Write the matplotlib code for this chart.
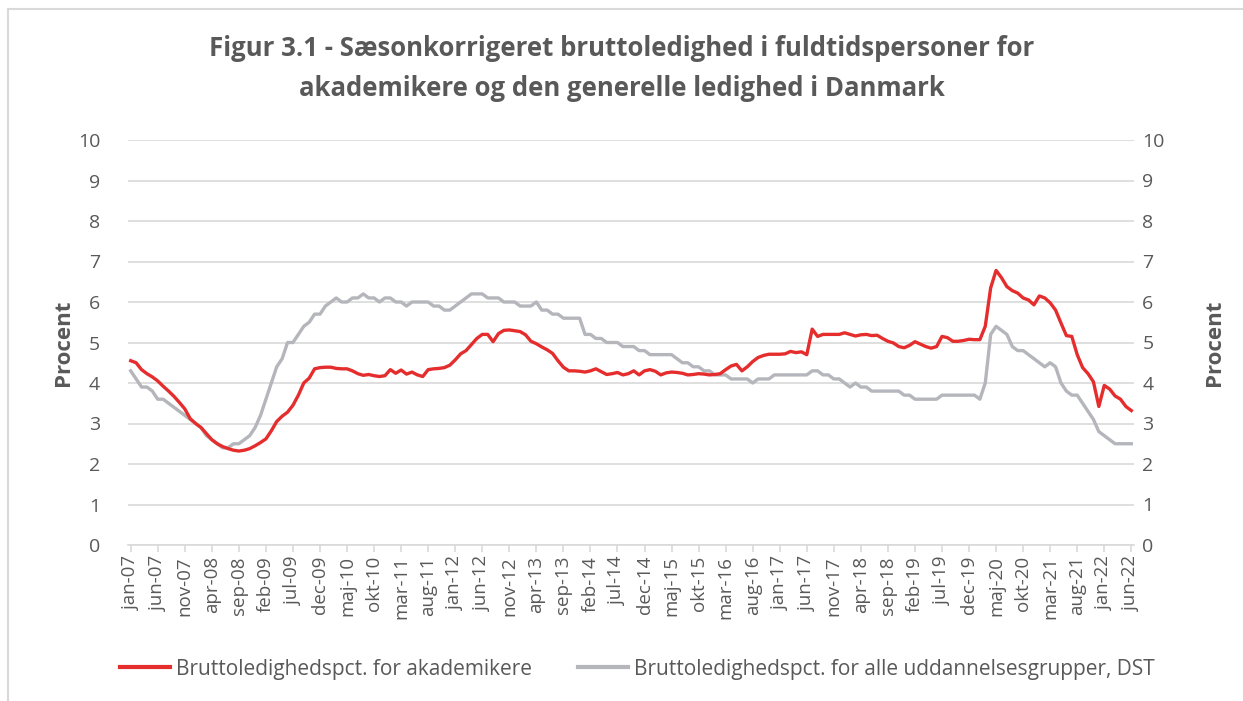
import numpy as np
import matplotlib.pyplot as plt
from matplotlib.lines import Line2D

plt.rcParams['font.family'] = ['Open Sans', 'DejaVu Sans']

months_da = ["jan", "feb", "mar", "apr", "maj", "jun",
             "jul", "aug", "sep", "okt", "nov", "dec"]
labels = [f"{months_da[i % 12]}-{7 + i // 12:02d}" for i in range(186)]

# Bruttoledighedspct. for akademikere (jan-07 .. jun-22)
akademikere = [
    4.55, 4.50, 4.33, 4.23, 4.15, 4.05, 3.92, 3.80, 3.67, 3.52, 3.36, 3.12,
    3.00, 2.90, 2.75, 2.60, 2.50, 2.43, 2.38, 2.34, 2.32, 2.34, 2.38, 2.45,
    2.53, 2.62, 2.82, 3.05, 3.18, 3.28, 3.45, 3.70, 4.00,
    4.12, 4.35, 4.38, 4.39, 4.39, 4.36, 4.35, 4.35, 4.30, 4.23, 4.19, 4.21,
    4.18, 4.16, 4.18, 4.33, 4.24, 4.32, 4.22, 4.27, 4.20, 4.16, 4.33, 4.35,
    4.36, 4.38, 4.44, 4.57, 4.72,
    4.80, 4.95, 5.10, 5.20, 5.20, 5.02, 5.22, 5.30, 5.31, 5.29, 5.27, 5.19,
    5.03, 4.97, 4.89, 4.82, 4.73, 4.55, 4.39, 4.30, 4.30, 4.29, 4.27, 4.30,
    4.35, 4.28, 4.21, 4.23, 4.26, 4.20, 4.23,
    4.30, 4.20, 4.30, 4.33, 4.29, 4.20, 4.25, 4.27, 4.26, 4.24, 4.20, 4.21,
    4.23, 4.22, 4.20, 4.21, 4.23, 4.33, 4.42, 4.46, 4.30, 4.40, 4.53, 4.63,
    4.68, 4.71, 4.71, 4.71, 4.72, 4.78, 4.75, 4.77, 4.70,
    5.33, 5.15, 5.20, 5.20, 5.20, 5.20, 5.24, 5.20, 5.16, 5.19, 5.20, 5.17,
    5.18, 5.10, 5.03, 4.99, 4.90, 4.87, 4.93, 5.02, 4.96, 4.90, 4.86, 4.90,
    5.15, 5.12, 5.03, 5.03, 5.05, 5.08, 5.07,
    5.07, 5.40, 6.35, 6.78, 6.60, 6.38, 6.28, 6.22, 6.10, 6.05, 5.93, 6.15,
    6.10, 5.98, 5.80, 5.48, 5.17, 5.15, 4.70, 4.38, 4.23, 4.03, 3.42, 3.94,
    3.85, 3.68, 3.60, 3.42, 3.32,
]

# Bruttoledighedspct. for alle uddannelsesgrupper, DST
alle = [
    4.3, 4.1, 3.9, 3.9, 3.8, 3.6, 3.6, 3.5, 3.4, 3.3, 3.2, 3.1,
    3.0, 2.9, 2.7, 2.6, 2.5, 2.4, 2.4, 2.5, 2.5, 2.6, 2.7, 2.9,
    3.2, 3.6, 4.0, 4.4, 4.6, 5.0, 5.0, 5.2, 5.4,
    5.5, 5.7, 5.7, 5.9, 6.0, 6.1, 6.0, 6.0, 6.1, 6.1, 6.2, 6.1,
    6.1, 6.0, 6.1, 6.1, 6.0, 6.0, 5.9, 6.0, 6.0, 6.0, 6.0, 5.9,
    5.9, 5.8, 5.8, 5.9, 6.0,
    6.1, 6.2, 6.2, 6.2, 6.1, 6.1, 6.1, 6.0, 6.0, 6.0, 5.9, 5.9,
    5.9, 6.0, 5.8, 5.8, 5.7, 5.7, 5.6, 5.6, 5.6, 5.6, 5.2, 5.2,
    5.1, 5.1, 5.0, 5.0, 5.0, 4.9, 4.9,
    4.9, 4.8, 4.8, 4.7, 4.7, 4.7, 4.7, 4.7, 4.6, 4.5, 4.5, 4.4,
    4.4, 4.3, 4.3, 4.2, 4.2, 4.2, 4.1, 4.1, 4.1, 4.1, 4.0, 4.1,
    4.1, 4.1, 4.2, 4.2, 4.2, 4.2, 4.2, 4.2, 4.2,
    4.3, 4.3, 4.2, 4.2, 4.1, 4.1, 4.0, 3.9, 4.0, 3.9, 3.9, 3.8,
    3.8, 3.8, 3.8, 3.8, 3.8, 3.7, 3.7, 3.6, 3.6, 3.6, 3.6, 3.6,
    3.7, 3.7, 3.7, 3.7, 3.7, 3.7, 3.7,
    3.6, 4.0, 5.2, 5.4, 5.3, 5.2, 4.9, 4.8, 4.8, 4.7, 4.6, 4.5,
    4.4, 4.5, 4.4, 4.0, 3.8, 3.7, 3.7, 3.5, 3.3, 3.1, 2.8, 2.7,
    2.6, 2.5, 2.5, 2.5, 2.5,
]

red = "#E52D2D"
grey = "#B4B6BB"
txt = "#595959"
grid = "#D9D9D9"

fig = plt.figure(figsize=(12.43, 7.01), dpi=100, facecolor="white")
ax = fig.add_axes([128 / 1243, 1 - 545 / 701, 1006 / 1243, 405 / 701])
x = np.arange(len(labels))
ax.plot(x, akademikere, color=red, lw=2.4, solid_joinstyle="round", zorder=3)
ax.plot(x, alle, color=grey, lw=2.4, solid_joinstyle="round", zorder=2)

ax.set_xlim(-0.5, len(labels) - 0.5)
ax.set_ylim(0, 10)
ax.set_yticks(range(11))
ax.yaxis.grid(True, color=grid, lw=1.2)
ax.set_axisbelow(True)
for s in ["top", "left", "right"]:
    ax.spines[s].set_visible(False)
ax.spines["bottom"].set_color(grid)
ax.spines["bottom"].set_linewidth(1.2)
ax.tick_params(axis="y", length=0, labelsize=14, labelcolor=txt, pad=20)
ax.set_xticks(x[::5])
ax.set_xticklabels(labels[::5], rotation=90, fontsize=13.5, color=txt)
ax.tick_params(axis="x", length=5, color=grid, width=1.2, pad=3)

ax2 = ax.twinx()
ax2.set_ylim(0, 10)
ax2.set_yticks(range(11))
for s in ["top", "left", "right", "bottom"]:
    ax2.spines[s].set_visible(False)
ax2.tick_params(axis="y", length=0, labelsize=14, labelcolor=txt, pad=6)

ax.set_ylabel("Procent", fontsize=16, fontweight="bold", color=txt, labelpad=3)
ax2.set_ylabel("Procent", fontsize=16, fontweight="bold", color=txt, labelpad=28)

fig.text(0.5, 1 - 48 / 701, "Figur 3.1 - Sæsonkorrigeret bruttoledighed i fuldtidspersoner for",
         ha="center", va="center", fontsize=18.5, fontweight="bold", color=txt)
fig.text(0.5, 1 - 89 / 701, "akademikere og den generelle ledighed i Danmark",
         ha="center", va="center", fontsize=18.5, fontweight="bold", color=txt)

handles = [Line2D([], [], color=red, lw=3),
           Line2D([], [], color=grey, lw=3)]
fig.legend(handles, ["Bruttoledighedspct. for akademikere",
                     "Bruttoledighedspct. for alle uddannelsesgrupper, DST"],
           loc="center", bbox_to_anchor=(0.5 + 16 / 1243, 1 - 669 / 701), ncol=2,
           frameon=False, fontsize=15, labelcolor=txt, handlelength=2.4,
           handletextpad=0.3, columnspacing=2.2)

# chart border (top and left edges visible)
fig.add_artist(Line2D([8 / 1243, 8 / 1243], [0, 1 - 9 / 701], transform=fig.transFigure,
                      color=grid, lw=1.5))
fig.add_artist(Line2D([8 / 1243, 1], [1 - 9 / 701, 1 - 9 / 701], transform=fig.transFigure,
                      color=grid, lw=1.5))

fig.savefig("out.png", dpi=100, facecolor="white")
